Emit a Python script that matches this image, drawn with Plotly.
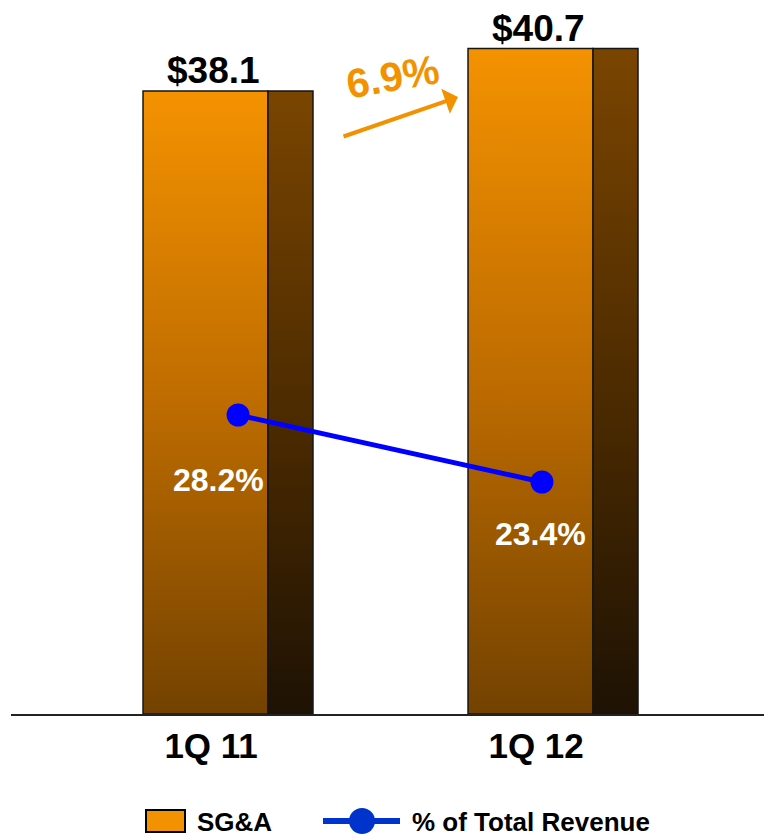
import plotly.graph_objects as go

# ---- data ----
quarters = ["1Q 11", "1Q 12"]
sga_musd = [38.1, 40.7]
sga_labels = ["$38.1", "$40.7"]
pct_revenue = [28.2, 23.4]
pct_labels = ["28.2%", "23.4%"]
growth_label = "6.9%"

# ---- styling ----
FONT = "Liberation Sans, Arial, Helvetica, sans-serif"
W, H = 764, 836
ML, MR, MT, MB = 11, 0, 0, 122
PLOT_W, PLOT_H = W - ML - MR, H - MT - MB

FRONT_L, FRONT_R, SIDE_R = -0.2615, 0.1231, 0.2615   # bar geometry, category units
X_RANGE = [-0.6677, 1.6492]
Y_RANGE = [0, 43.67]
Y2_RANGE = [6.78, 57.93]

FRONT_SCALE = [[0, "#734200"], [0.5, "#BE6C00"], [1, "#F49200"]]
SIDE_SCALE = [[0, "#1E1204"], [0.5, "#4E2C00"], [1, "#7A4500"]]
EDGE = "#151515"


def px_to_paper(px, py):
    return (px - ML) / PLOT_W, (H - MB - py) / PLOT_H


fig = go.Figure()

# 3-D style bars: a gradient front face plus a darker side face
for i, v in enumerate(sga_musd):
    faces = [
        (i + FRONT_L, i + FRONT_R, FRONT_SCALE),
        (i + FRONT_R, i + SIDE_R, SIDE_SCALE),
    ]
    for x0, x1, scale in faces:
        fig.add_trace(go.Scatter(
            x=[x0, x1, x1, x0, x0],
            y=[0, 0, v, v, 0],
            mode="lines",
            fill="toself",
            fillgradient=dict(type="vertical", colorscale=scale),
            line=dict(color=EDGE, width=1.5),
            hoverinfo="skip",
            showlegend=False,
            yaxis="y",
        ))

# % of total revenue line on a secondary axis
pt_offsets = [0.031, -0.034]
pt_x = [i + d for i, d in enumerate(pt_offsets)]
fig.add_trace(go.Scatter(
    x=pt_x,
    y=pct_revenue,
    mode="lines+markers",
    line=dict(color="#0000FF", width=5),
    marker=dict(color="#0000FF", size=23),
    yaxis="y2",
    showlegend=False,
    name="% of Total Revenue",
))

annotations = []

# value labels above bars
for i, (v, t) in enumerate(zip(sga_musd, sga_labels)):
    annotations.append(dict(
        x=i - 0.045, y=v, xref="x", yref="y", text=t, showarrow=False,
        yanchor="bottom", yshift=-2,
        font=dict(family=FONT, size=37, color="black", weight="bold"),
    ))

# percentage labels below points
pct_shift = [(-20, -65), (-1, -52)]
for i, (p, t) in enumerate(zip(pct_revenue, pct_labels)):
    dx, dy = pct_shift[i]
    annotations.append(dict(
        x=pt_x[i], y=p, xref="x", yref="y2", text=t, showarrow=False,
        xshift=dx, yshift=dy,
        font=dict(family=FONT, size=32, color="white", weight="bold"),
    ))

# growth arrow and label
annotations.append(dict(
    x=0.7077, y=37.74, ax=0.3508, ay=35.29,
    xref="x", yref="y", axref="x", ayref="y",
    text="", showarrow=True, arrowhead=1, arrowsize=1.1, arrowwidth=4,
    arrowcolor="#F39200", standoff=0,
))
annotations.append(dict(
    x=0.5046, y=38.96, xref="x", yref="y", text=growth_label, showarrow=False,
    textangle=-10,
    font=dict(family=FONT, size=41, color="#F39200", weight="bold"),
))

# legend
shapes = []
sx0, sy0 = px_to_paper(146, 832)
sx1, sy1 = px_to_paper(185, 810)
shapes.append(dict(type="rect", xref="paper", yref="paper",
                   x0=sx0, y0=sy0, x1=sx1, y1=sy1,
                   fillcolor="#F39200", line=dict(color="black", width=2)))
lx0, ly = px_to_paper(323, 821)
lx1, _ = px_to_paper(400, 821)
shapes.append(dict(type="line", xref="paper", yref="paper",
                   x0=lx0, y0=ly, x1=lx1, y1=ly,
                   line=dict(color="#0033CC", width=6)))
cx0, cy0 = px_to_paper(349, 834)
cx1, cy1 = px_to_paper(375, 808)
shapes.append(dict(type="circle", xref="paper", yref="paper",
                   x0=cx0, y0=cy0, x1=cx1, y1=cy1,
                   fillcolor="#0033CC", line=dict(color="#0033CC", width=0)))
tx, ty = px_to_paper(195, 822)
annotations.append(dict(x=tx, y=ty, xref="paper", yref="paper", text="SG&A",
                        showarrow=False, xanchor="left", yanchor="middle",
                        font=dict(family=FONT, size=26, color="black", weight="bold")))
tx, ty = px_to_paper(410, 822)
annotations.append(dict(x=tx, y=ty, xref="paper", yref="paper",
                        text="% of Total Revenue",
                        showarrow=False, xanchor="left", yanchor="middle",
                        font=dict(family=FONT, size=26, color="black", weight="bold")))

fig.update_layout(
    width=W, height=H,
    margin=dict(l=ML, r=MR, t=MT, b=MB),
    paper_bgcolor="white", plot_bgcolor="white",
    showlegend=False,
    xaxis=dict(
        range=X_RANGE, showgrid=False, zeroline=False,
        showline=True, linecolor="#222", linewidth=2,
        tickvals=[i - 0.052 for i in range(len(quarters))],
        ticktext=quarters, ticks="",
        tickfont=dict(family=FONT, size=35, color="black", weight="bold"),
        fixedrange=True,
    ),
    yaxis=dict(range=Y_RANGE, visible=False, fixedrange=True),
    yaxis2=dict(range=Y2_RANGE, overlaying="y", visible=False, fixedrange=True),
    annotations=annotations,
    shapes=shapes,
)

fig.write_html("out.html")
